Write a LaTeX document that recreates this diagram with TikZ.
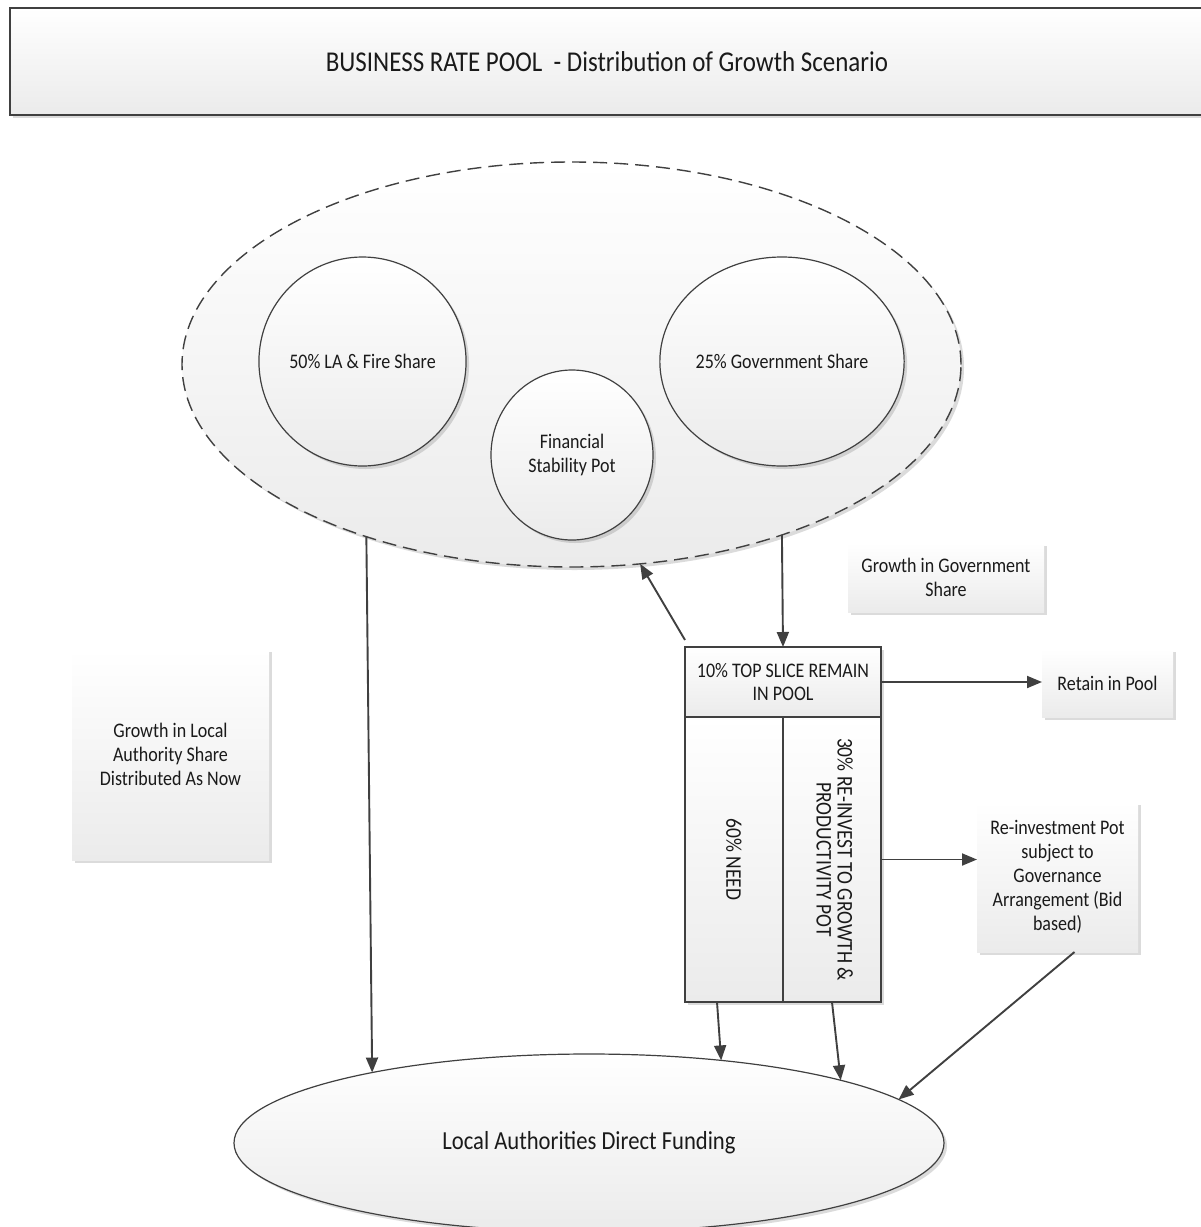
\documentclass[tikz,border=0pt]{standalone}
\usepackage{fontspec}
\setmainfont{Carlito}[FakeStretch=0.87]
\usetikzlibrary{shapes.geometric,shadows,arrows.meta}
\definecolor{linecol}{HTML}{404040}
\definecolor{shadebot}{HTML}{EBEBEB}
\definecolor{txtcol}{HTML}{1A1A1A}
\newcommand\dgsmall{\fontsize{20.7}{24}\selectfont}
\newcommand\dgrot{\fontsize{22.4}{24}\selectfont}
\newcommand\dglarge{\fontsize{26}{30}\selectfont}
\newcommand\dgtitle{\fontsize{28.7}{32}\selectfont}
\begin{document}
\begin{tikzpicture}[x=1pt,y=-1pt,
  shadedfill/.style={top color=white, bottom color=shadebot},
  softshadow/.style={drop shadow={shadow xshift=3pt, shadow yshift=-3pt, opacity=0.2, fill=black!70}},
  boxb/.style={rectangle, draw=linecol, line width=1.3pt, shadedfill, softshadow, inner sep=0pt, outer sep=0pt, align=center, font=\dgsmall, text=txtcol},
  note/.style={rectangle, shadedfill, softshadow, inner sep=0pt, outer sep=0pt, align=center, font=\dgsmall, text=txtcol},
  oval/.style={ellipse, draw=linecol, line width=1.2pt, shadedfill, softshadow, inner sep=0pt, outer sep=0pt, align=center, font=\dgsmall, text=txtcol},
  conn/.style={draw=linecol, line width=1.9pt, -{Triangle[length=15pt,width=12pt]}}]
\useasboundingbox (0,0) rectangle (1201,1227);
\fill[white] (0,0) rectangle (1201,1227);

% title
\node[boxb, minimum width=1194, minimum height=107, font=\dgtitle] (title) at (607,61.5)
  {BUSINESS RATE POOL\ \ - Distribution of Growth Scenario};

% pool ellipse and shares
\node[oval, line width=1.4pt, dash pattern=on 14pt off 7pt, minimum width=779, minimum height=405] (pool) at (571.5,364.5) {};
\node[oval, minimum width=193, minimum height=209] (lafire) at (362.5,361.5) {50\% LA \& Fire Share};
\node[oval, minimum width=190, minimum height=209] (govshare) at (782,361.5) {25\% Government Share};
\node[oval, minimum width=162, minimum height=170] (finpot) at (572,455) {Financial\\Stability Pot};

% notes
\node[note, minimum width=196, minimum height=69] (govgrowth) at (946,577.5) {Growth in Government\\Share};
\node[note, minimum width=197, minimum height=211] (lagrowth) at (170.5,754.5) {Growth in Local\\Authority Share\\Distributed As Now};
\node[note, minimum width=131, minimum height=68] (retain) at (1107.5,683) {Retain in Pool};
\node[note, minimum width=161, minimum height=150] (reinv) at (1057.5,877) {Re-investment Pot\\subject to\\Governance\\Arrangement (Bid\\based)};

% top slice block
\node[boxb, minimum width=196, minimum height=70] (topbox) at (783,682) {10\% TOP SLICE REMAIN\\IN POOL};
\node[boxb, minimum width=98, minimum height=285, font=\dgrot] (col1) at (734,859.5) {\rotatebox{-90}{60\% NEED}};
\node[boxb, minimum width=98, minimum height=285, font=\dgrot] (col2) at (832,859.5)
  {\rotatebox{-90}{\begin{tabular}{@{}c@{}}30\% RE-INVEST TO GROWTH \&\\[-3pt]PRODUCTIVITY POT\end{tabular}}};

% local authorities
\node[oval, minimum width=710, minimum height=178, font=\dglarge] (lafund) at (589,1143) {Local Authorities Direct Funding};

% connectors
\draw[conn] (pool.220.31) -- (lafund.162.37);
\draw[conn] (pool.321.29) -- (topbox.north);
\draw[conn] ([yshift=7pt]topbox.north west) -- (pool.289.37);
\draw[conn] (topbox.east) -- (topbox.east -| retain.west);
\draw[conn] (col2.east) -- (col2.east -| reinv.west);
\draw[conn] ([xshift=-17pt]col1.south) -- (lafund.32.04);
\draw[conn] (col2.south) -- (lafund.14.83);
\draw[conn] ([xshift=17pt]reinv.south) -- (lafund.8.38);
\end{tikzpicture}
\end{document}
